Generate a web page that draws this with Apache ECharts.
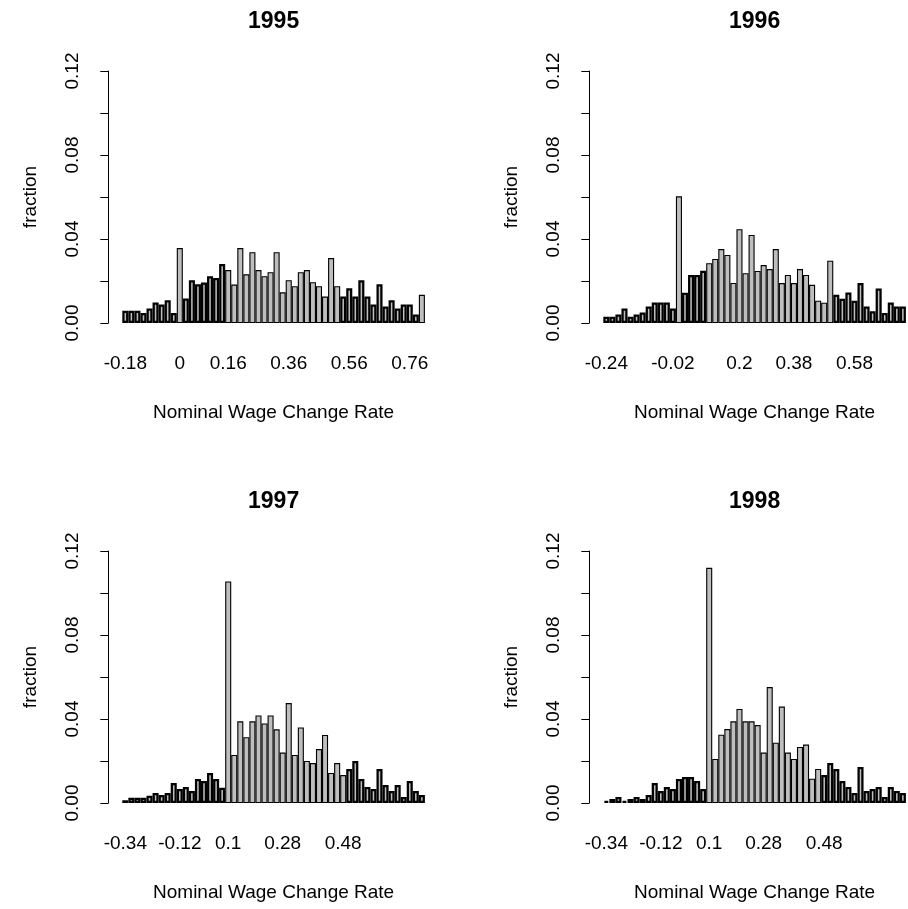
<!DOCTYPE html>
<html>
<head>
<meta charset="utf-8">
<script src="https://cdn.jsdelivr.net/npm/echarts@6/dist/echarts.min.js"></script>
<style>
html,body{margin:0;padding:0;background:#ffffff;}
#chart{width:908px;height:909px;}
</style>
</head>
<body>
<div id="chart"></div>
<script>
// ---------------- data ----------------
const years = ['1995', '1996', '1997', '1998'];

const v1995 = [0.0058, 0.0058, 0.0058, 0.0048, 0.0069, 0.0098, 0.0088, 0.0108, 0.0048, 0.0357,
               0.0117, 0.0204, 0.0184, 0.0193, 0.0223, 0.0214, 0.0281, 0.0252, 0.0183, 0.0357,
               0.0232, 0.0337, 0.0252, 0.0223, 0.0242, 0.0337, 0.0146, 0.0204, 0.0175, 0.0242,
               0.0252, 0.0194, 0.0175, 0.0126, 0.0309, 0.0175, 0.0126, 0.0165, 0.0126, 0.0204,
               0.0126, 0.0088, 0.0185, 0.0079, 0.0108, 0.0069, 0.0088, 0.0088, 0.0040, 0.0134];

const v1996 = [0.0030, 0.0030, 0.0040, 0.0069, 0.0030, 0.0040, 0.0050, 0.0079, 0.0098, 0.0098,
               0.0098, 0.0069, 0.0603, 0.0144, 0.0229, 0.0229, 0.0249, 0.0285, 0.0305, 0.0352,
               0.0324, 0.0191, 0.0447, 0.0237, 0.0419, 0.0248, 0.0276, 0.0257, 0.0352, 0.0190,
               0.0229, 0.0190, 0.0257, 0.0229, 0.0182, 0.0106, 0.0097, 0.0297, 0.0134, 0.0116,
               0.0145, 0.0106, 0.0190, 0.0078, 0.0056, 0.0164, 0.0048, 0.0098, 0.0078, 0.0078];

const v1997 = [0.0013, 0.0025, 0.0025, 0.0025, 0.0035, 0.0048, 0.0038, 0.0048, 0.0095, 0.0067,
               0.0076, 0.0057, 0.0114, 0.0105, 0.0143, 0.0114, 0.0073, 0.1055, 0.0229, 0.0389,
               0.0313, 0.0389, 0.0417, 0.0379, 0.0417, 0.0351, 0.0240, 0.0476, 0.0229, 0.0360,
               0.0200, 0.0190, 0.0257, 0.0324, 0.0143, 0.0190, 0.0133, 0.0162, 0.0200, 0.0114,
               0.0076, 0.0067, 0.0162, 0.0086, 0.0057, 0.0086, 0.0029, 0.0105, 0.0057, 0.0038];

const v1998 = [0.0010, 0.0019, 0.0029, 0.0010, 0.0019, 0.0029, 0.0019, 0.0038, 0.0095, 0.0057,
               0.0076, 0.0067, 0.0114, 0.0124, 0.0124, 0.0105, 0.0067, 0.1120, 0.0210, 0.0325,
               0.0352, 0.0389, 0.0448, 0.0389, 0.0389, 0.0371, 0.0240, 0.0552, 0.0287, 0.0459,
               0.0240, 0.0210, 0.0267, 0.0278, 0.0116, 0.0162, 0.0133, 0.0190, 0.0162, 0.0105,
               0.0076, 0.0048, 0.0171, 0.0057, 0.0067, 0.0076, 0.0029, 0.0076, 0.0057, 0.0048];

// x tick labels and the bar (bin) each one sits under
const tickLabels1995 = ['-0.18', '0', '0.16', '0.36', '0.56', '0.76'];
const tickBars1995   = [0, 9, 17, 27, 37, 47];
const tickLabels1996 = ['-0.24', '-0.02', '0.2', '0.38', '0.58'];
const tickBars1996   = [0, 11, 22, 31, 41];
const tickLabels1997 = ['-0.34', '-0.12', '0.1', '0.28', '0.48'];
const tickBars1997   = [0, 9, 17, 26, 36];
const tickLabels1998 = ['-0.34', '-0.12', '0.1', '0.28', '0.48'];
const tickBars1998   = [0, 9, 17, 26, 36];

// y axis
const yMin = 0, yMax = 0.12, yStep = 0.02;
const yLabelled = ['0.00', '0.04', '0.08', '0.12'];

const xTitle = 'Nominal Wage Change Rate';
const yTitle = 'fraction';

// ---------------- style / layout (not data) ----------------
const FONT = '"Liberation Sans", Arial, Helvetica, sans-serif';
const panels = [
  { values: v1995, labels: tickLabels1995, bars: tickBars1995, heavy: [[0,8],[10,16],[36,48]], left: 122.3, top: 71 },
  { values: v1996, labels: tickLabels1996, bars: tickBars1996, heavy: [[0,11],[13,16],[38,49]], left: 603.3, top: 71 },
  { values: v1997, labels: tickLabels1997, bars: tickBars1997, heavy: [[0,16],[37,49]], left: 122.3, top: 551 },
  { values: v1998, labels: tickLabels1998, bars: tickBars1998, heavy: [[0,16],[36,49]], left: 603.3, top: 551 }
];
const GRID_W = 302.6, GRID_H = 252;

const isHeavy = (p, i) => p.heavy.some(r => i >= r[0] && i <= r[1]);

const grid = [], xAxis = [], yAxis = [], series = [], title = [];
panels.forEach((p, k) => {
  grid.push({ left: p.left, top: p.top, width: GRID_W, height: GRID_H, containLabel: false });
  title.push({
    text: years[k], left: p.left + GRID_W / 2, top: p.top - 61, textAlign: 'center', textVerticalAlign: 'top', padding: 0,
    textStyle: { fontFamily: FONT, fontSize: 23, fontWeight: 'bold', color: '#000' }
  });
  const cats = p.values.map((_, i) => String(i));
  xAxis.push({
    type: 'category', gridIndex: k, data: cats,
    axisLine: { show: false }, axisTick: { show: false }, splitLine: { show: false },
    axisLabel: {
      interval: 0, margin: 31, color: '#000', fontFamily: FONT, fontSize: 19,
      formatter: (val, idx) => { const j = p.bars.indexOf(idx); return j >= 0 ? p.labels[j] : ''; }
    },
    name: xTitle, nameLocation: 'middle', nameGap: 80,
    nameTextStyle: { color: '#000', fontFamily: FONT, fontSize: 19 }
  });
  yAxis.push({
    type: 'value', gridIndex: k, min: yMin, max: yMax, interval: yStep, offset: 14,
    axisLine: { show: true, lineStyle: { color: '#000', width: 1 } },
    axisTick: { show: true, length: 8, lineStyle: { color: '#000', width: 1 } },
    splitLine: { show: false },
    axisLabel: {
      rotate: 90, margin: 26, color: '#000', fontFamily: FONT, fontSize: 19, showMinLabel: true, showMaxLabel: true,
      formatter: v => { const s = v.toFixed(2); return yLabelled.includes(s) ? s : ''; }
    },
    name: yTitle, nameLocation: 'middle', nameRotate: 90, nameGap: 68,
    nameTextStyle: { color: '#000', fontFamily: FONT, fontSize: 19 }
  });
  series.push({
    type: 'bar', xAxisIndex: k, yAxisIndex: k, barCategoryGap: '0%', silent: true, animation: false,
    data: p.values.map((v, i) => ({
      value: v,
      itemStyle: { borderWidth: isHeavy(p, i) ? 2.25 : 1.1 }
    })),
    itemStyle: { color: '#bebebe', borderColor: '#000', borderWidth: 1.1 }
  });
});

const chart = echarts.init(document.getElementById('chart'), null, { renderer: 'canvas' });
chart.setOption({ backgroundColor: '#ffffff', animation: false, title, grid, xAxis, yAxis, series });
</script>
</body>
</html>
